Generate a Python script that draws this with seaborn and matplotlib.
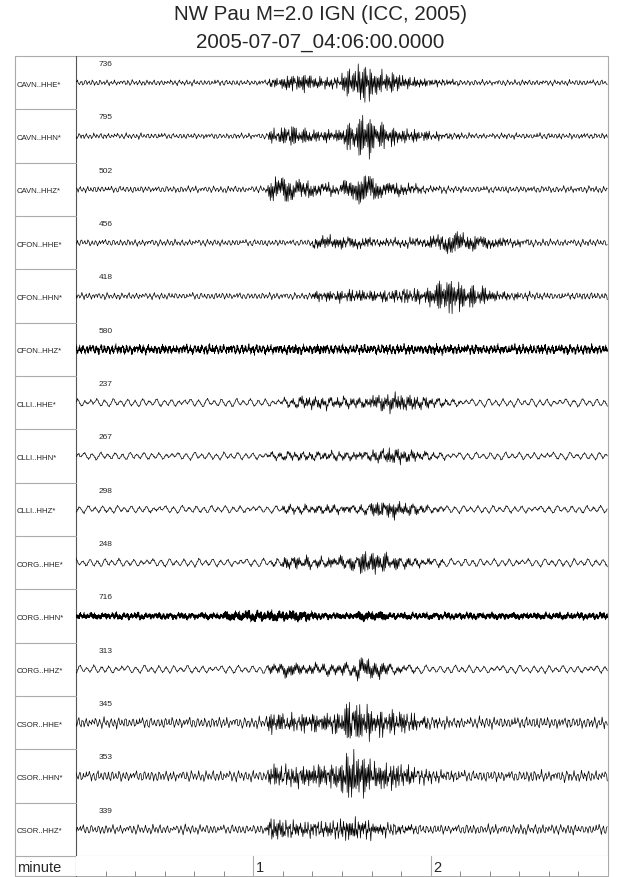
import numpy as np
import pandas as pd
import matplotlib
matplotlib.use('Agg')
import matplotlib.pyplot as plt
import seaborn as sns

# channel names and the count shown above each trace
channels = ['CAVN..HHE*', 'CAVN..HHN*', 'CAVN..HHZ*',
            'CFON..HHE*', 'CFON..HHN*', 'CFON..HHZ*',
            'CLLI..HHE*', 'CLLI..HHN*', 'CLLI..HHZ*',
            'CORG..HHE*', 'CORG..HHN*', 'CORG..HHZ*',
            'CSOR..HHE*', 'CSOR..HHN*', 'CSOR..HHZ*']
max_counts = [736, 795, 502, 456, 418, 580, 237, 267, 298, 248, 716, 313, 345, 353, 339]

# background (long period) noise level per trace, in pixels of half swing
noise_amp = [2.5, 2.5, 3, 3, 3, 3, 3.8, 3.5, 3.5, 3.8, 1.5, 3.8, 5, 5, 4.5]
# how fast the background wiggles (1 = slow, 2 = fast)
noise_speed = [2, 2, 2, 2, 2, 1, 1, 1, 1, 1, 1, 1, 2, 2, 2]
# samples per second drawn for each trace (the two noisy channels are denser)
rate = [4, 4, 4, 4, 4, 8, 4, 4, 4, 4, 8, 4, 4, 4, 4]

# short period energy per 5 s window (0-180 s)
event_env = [
    [1] * 13 + [4, 8, 8, 5, 5, 12, 18, 12, 9, 5, 4, 2.5, 2] + [1] * 10,
    [1] * 13 + [6, 9, 8, 5, 5, 14, 22, 12, 9, 6, 4, 3, 2] + [1.2] * 10,
    [1] * 13 + [10, 13, 8, 5, 5, 9, 14, 10, 6, 4, 3, 2] + [1.2] * 11,
    [1] * 16 + [5, 6, 5, 4, 3, 3, 3, 4, 7, 10, 8, 6, 4, 3, 2] + [1.2] * 5,
    [1] * 16 + [4, 5, 5, 5, 5, 5, 6, 7, 14, 16, 12, 8, 4, 3, 2] + [1.5] * 5,
    [3] * 14 + [3.5, 3, 3.5, 3] + [3] * 6 + [3.5, 3] + [3] * 10,
    [1] * 14 + [3, 5, 5, 4, 4, 4, 7, 8, 7, 5, 3, 2] + [1] * 10,
    [1] * 13 + [2.5, 3, 3, 3, 3, 3, 3, 5, 7, 5, 3, 2] + [1] * 11,
    [1] * 14 + [3, 3, 3, 3, 3, 3, 7, 8, 5, 3, 2] + [1] * 11,
    [1] * 13 + [2, 5, 5, 4, 4, 6, 11, 9, 6, 4, 2.5, 2] + [1] * 11,
    [3] * 10 + [4.5, 5, 5, 5, 5, 5, 3, 3, 3, 4.5, 4.5] + [3] * 15,
    [1] * 13 + [4, 6, 5, 4, 4, 6, 9, 7, 4, 2] + [1] * 13,
    [1.5] * 12 + [2, 9, 7, 7, 8, 10, 18, 16, 12, 10, 8, 5, 3, 2.5] + [2] * 10,
    [1.5] * 13 + [9, 9, 9, 10, 12, 22, 18, 13, 11, 8, 5, 3.5, 3] + [2] * 10,
    [1] * 13 + [10, 7, 6, 6, 7, 10, 8, 5, 4, 3, 2] + [1.5] * 12,
]

# hand drawn wiggle shapes used as the carrier of every trace
LOW = [0.05, 0.35, 0.70, 0.90, 0.80, 0.45, 0.05, -0.35, -0.70, -0.85, -0.60, -0.20,
       0.20, 0.50, 0.60, 0.40, 0.10, -0.25, -0.55, -0.95, -1.00, -0.70, -0.30, 0.10,
       0.55, 0.90, 1.00, 0.75, 0.30, -0.15, -0.45, -0.50, -0.30, 0.00, 0.30, 0.45,
       0.35, 0.05, -0.30, -0.65, -0.80, -0.55, -0.15, 0.25, 0.65, 0.85, 0.70, 0.30,
       -0.10, -0.50, -0.75, -0.70, -0.40, 0.00, 0.35, 0.50, 0.30, -0.05, -0.40, -0.85,
       -1.00, -0.80, -0.35, 0.15, 0.60, 0.95, 0.90, 0.55, 0.10, -0.30, -0.55, -0.45,
       -0.15, 0.20, 0.45, 0.40, 0.15, -0.20, -0.50, -0.60, -0.40, -0.05, 0.35, 0.75,
       0.95, 0.80, 0.40, -0.05, -0.45, -0.80, -0.90, -0.65, -0.25, 0.15, 0.45, 0.55,
       0.35, 0.00, -0.35, -0.60, -0.55, -0.25, 0.10, 0.50, 0.80, 0.70, 0.35, -0.05,
       -0.45, -0.75, -0.85, -0.60, -0.20, 0.20, 0.40, 0.30, 0.05, -0.20, -0.30, -0.15,
       0.10, 0.40, 0.65, 0.50, 0.15, -0.20, -0.15]
HIGH = [0.9, -0.5, 0.3, -1.0, 0.7, -0.2, 0.8, -0.7, 0.4, -0.6,
        1.0, -0.9, 0.2, -0.4, 0.6, -0.8, 0.5, -0.3, 0.95, -1.0,
        0.15, -0.55, 0.65, -0.85, 0.35, -0.25, 0.75, -0.6, 0.45, -0.9,
        0.85, -0.35, 0.25, -0.75, 1.0, -0.5, 0.3, -0.95, 0.55, -0.15,
        0.7, -0.65, 0.4, -0.45, 0.9, -0.8, 0.2, -0.7, 0.6, -1.0,
        0.5, -0.3, 0.8, -0.55, 0.35, -0.85, 1.0, -0.4, 0.25, -0.6]
strides = [7, 11, 13, 17, 19, 23, 29, 31, 37, 41, 43, 47, 49, 53, 59]

minute_labels = ['1', '2']

sns.set_style('white')
plt.rcParams['font.family'] = ['Liberation Sans', 'DejaVu Sans']

W, H = 640, 878
fig = plt.figure(figsize=(W / 100, H / 100), dpi=100)

left, mid, right = 15, 76, 608
top, bottom_traces, bottom = 57, 857, 877
row_h = (bottom_traces - top) / len(channels)


def fig_rect(x0, y0, x1, y1):
    return [x0 / W, 1 - y1 / H, (x1 - x0) / W, (y1 - y0) / H]


# frame and label column in pixel coordinates
ax0 = fig.add_axes([0, 0, 1, 1])
ax0.set_xlim(0, W)
ax0.set_ylim(H, 0)
ax0.axis('off')
frame_c = '#ababab'
ax0.plot([left, right, right, left, left], [top, top, bottom, bottom, top], color=frame_c, lw=0.8)
ax0.plot([mid, mid], [top, bottom], color='#555555', lw=0.8)
ax0.plot([left, right], [bottom_traces, bottom_traces], color=frame_c, lw=0.8)

fig.text(0.5, 1 - 15 / H, 'NW Pau M=2.0 IGN (ICC, 2005)', ha='center', va='center', fontsize=14.8)
fig.text(0.5, 1 - 42 / H, '2005-07-07_04:06:00.0000', ha='center', va='center', fontsize=14.8)

low_arr = np.array(LOW)
high_arr = np.array(HIGH)

for i, ch in enumerate(channels):
    y0 = top + i * row_h
    y1 = y0 + row_h
    if i < len(channels) - 1:
        ax0.plot([left, mid], [y1, y1], color=frame_c, lw=0.8)
    ax0.text(left + 2, y0 + row_h / 2 + 1.5, ch, fontsize=5.6, va='center', ha='left')

    fs = rate[i]
    n = 180 * fs
    t = np.arange(n) / (fs * 60.0)
    idx = np.arange(n)
    low = low_arr[(idx * noise_speed[i] + 17 * i) % len(LOW)]
    high = high_arr[(idx * strides[i] + 2 * i) % len(HIGH)]
    env = np.repeat(np.array(event_env[i], dtype=float), n // len(event_env[i]))
    kernel = np.ones(int(1.5 * fs)) / int(1.5 * fs)
    pad = len(kernel) // 2
    env = np.convolve(np.pad(env, pad, mode='edge'), kernel, mode='same')[pad:pad + n]
    wave = noise_amp[i] * low + env * high
    df = pd.DataFrame({'minute': t, 'amp': wave})

    ax = fig.add_axes(fig_rect(mid, y0, right, y1))
    sns.lineplot(data=df, x='minute', y='amp', ax=ax, color='black', linewidth=0.5,
                 estimator=None, sort=False)
    ax.set_xlim(0, 3)
    ax.set_ylim(-row_h / 2, row_h / 2)
    ax.axis('off')
    ax.text(0.042, 0.86, str(max_counts[i]), transform=ax.transAxes, fontsize=6, ha='left', va='center')

# time axis row
ax0.text(left + 2, (bottom_traces + bottom) / 2 + 1, 'minute', fontsize=10.5, va='center', ha='left')
axt = fig.add_axes(fig_rect(mid, bottom_traces, right, bottom))
axt.set_xlim(0, 3)
axt.set_ylim(0, 1)
for s in axt.spines.values():
    s.set_visible(False)
minor = [m for m in np.arange(10, 180, 10) / 60.0 if abs(m - round(m)) > 1e-6]
axt.set_xticks(minor)
axt.set_xticklabels([])
axt.set_yticks([])
axt.tick_params(axis='x', direction='in', length=3.5, width=0.6, color='#777777', bottom=True)
for lab in minute_labels:
    m = float(lab)
    axt.axvline(m, color=frame_c, lw=0.8)
    axt.text(m + 0.012, 0.45, lab, fontsize=10.5, va='center', ha='left')

fig.savefig('out.png', dpi=100)
